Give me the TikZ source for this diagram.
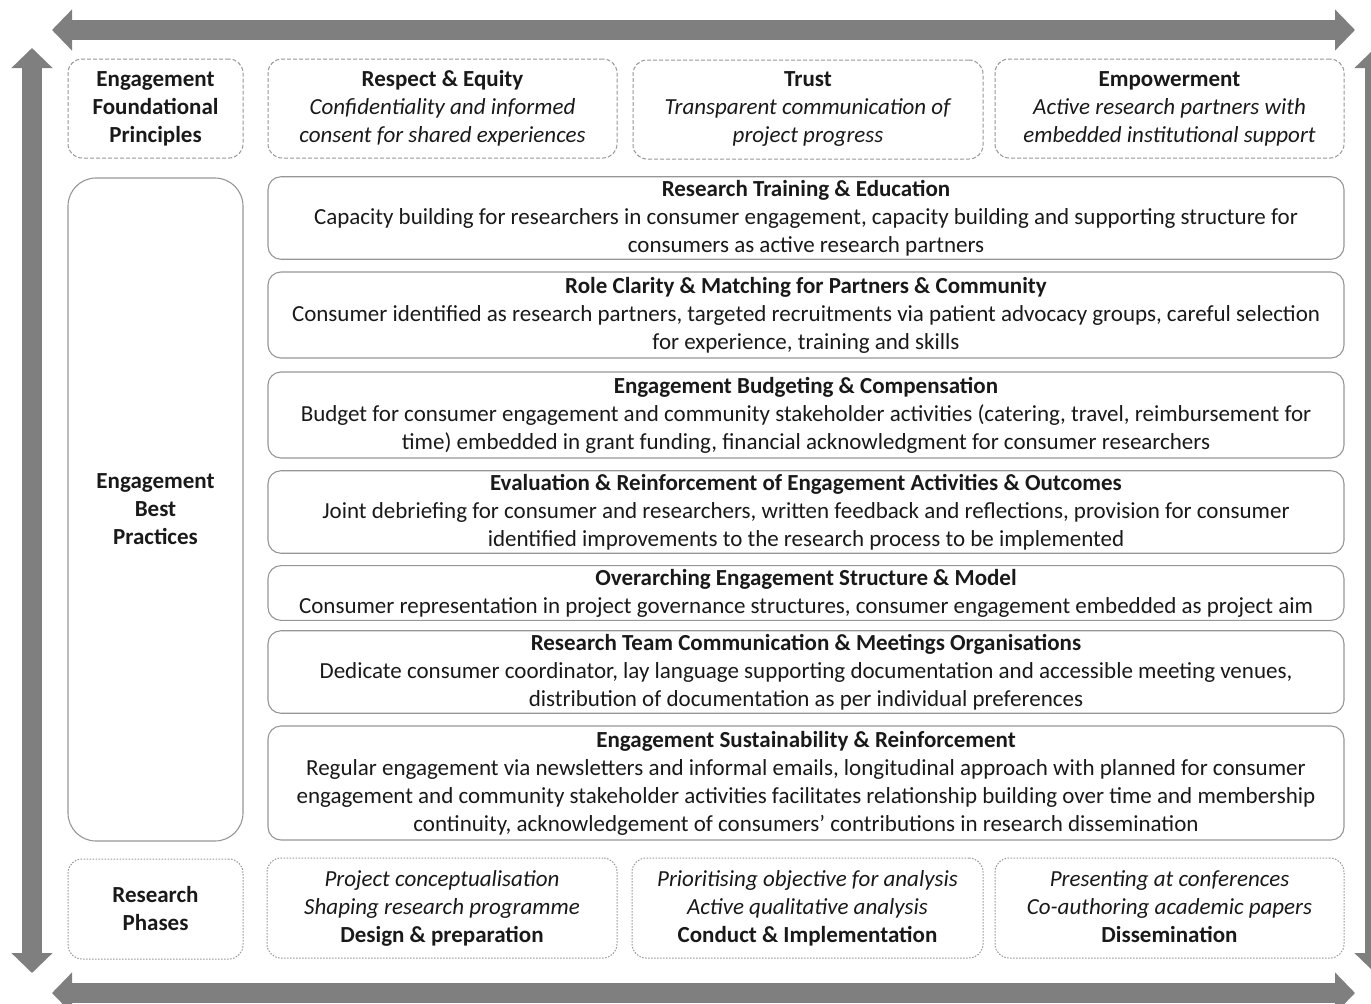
\documentclass[tikz,border=0pt]{standalone}
\usepackage{fontspec}
\setmainfont{Carlito}
\usetikzlibrary{arrows.meta}
\definecolor{arrow_gray}{RGB}{127, 127, 127}
\definecolor{line_gray}{RGB}{150, 150, 150}
\definecolor{text_black}{RGB}{25, 25, 25}
\def \BP {\fontsize{23}{28}\selectfont}

\begin{document}
\begin{tikzpicture}[
    x=1pt, y=-1pt,
    % Node styles
    principle/.style={
        rectangle,
        draw=line_gray,
        dash pattern=on 4pt off 2pt,
        line width=1pt,
        rounded corners=14pt,
        minimum height=99pt,
        minimum width=#1,
        text=text_black,
        align=center,
        font=\BP
    },
    practice/.style={
        rectangle,
        draw=line_gray,
        line width=1.1pt,
        rounded corners=13pt,
        minimum width=1076pt,
        minimum height=#1,
        text=text_black,
        align=center,
        font=\BP
    },
    phase/.style={
        rectangle,
        draw=line_gray,
        dash pattern=on 1.5pt off 1.5pt,
        line width=1pt,
        rounded corners=14pt,
        minimum height=100pt,
        minimum width=#1,
        text=text_black,
        align=center,
        font=\BP
    },
    big_arrow/.style={
        draw=arrow_gray,
        line width=20pt,
        {Triangle[width=40pt, length=20pt]}-{Triangle[width=40pt, length=20pt]}
    }
]

\useasboundingbox (0,0) rectangle (1371,1004);
\clip (0,0) rectangle (1371,1004);

% Arrow ends
\coordinate (top_l) at (52,30);
\coordinate (top_r) at (1355,30);
\coordinate (bot_l) at (52,993);
\coordinate (bot_r) at (1355,993);
\coordinate (left_t) at (32,48);
\coordinate (left_b) at (32,973);
\coordinate (right_t) at (1375,48);
\coordinate (right_b) at (1375,973);

\draw[big_arrow] (top_l) -- (top_r);
\draw[big_arrow] (bot_l) -- (bot_r);
\draw[big_arrow] (left_t) -- (left_b);
\draw[big_arrow] (right_t) -- (right_b);

% Foundational principles
\node[principle=175pt] (found) at (155.5,108.5) {\textbf{Engagement}\\\textbf{Foundational}\\\textbf{Principles}};
\node[principle=349pt] (respect) at (442.5,108.5) {\textbf{Respect \& Equity}\\\textit{Confidentiality and informed}\\\textit{consent for shared experiences}};
\node[principle=350pt] (trust) at (808,109.5) {\textbf{Trust}\\\textit{Transparent communication of}\\\textit{project progress}};
\node[principle=349pt] (empower) at (1169.5,108.5) {\textbf{Empowerment}\\\textit{Active research partners with}\\\textit{embedded institutional support}};

% Best practices
\node[practice=663pt, minimum width=175pt, rounded corners=28pt] (best) at (155.5,509.5) {\textbf{Engagement}\\\textbf{Best}\\\textbf{Practices}};
\node[practice=80pt] (training) at (806,218) {\textbf{Research Training \& Education}\\Capacity building for researchers in consumer engagement, capacity building and supporting structure for\\consumers as active research partners};
\node[practice=86pt] (roles) at (806,315) {\textbf{Role Clarity \& Matching for Partners \& Community}\\Consumer identified as research partners, targeted recruitments via patient advocacy groups, careful selection\\for experience, training and skills};
\node[practice=86pt] (budget) at (806,415) {\textbf{Engagement Budgeting \& Compensation}\\Budget for consumer engagement and community stakeholder activities (catering, travel, reimbursement for\\time) embedded in grant funding, financial acknowledgment for consumer researchers};
\node[practice=82pt] (evaluation) at (806,512) {\textbf{Evaluation \& Reinforcement of Engagement Activities \& Outcomes}\\Joint debriefing for consumer and researchers, written feedback and reflections, provision for consumer\\identified improvements to the research process to be implemented};
\node[practice=54pt] (structure) at (806,593) {\textbf{Overarching Engagement Structure \& Model}\\Consumer representation in project governance structures, consumer engagement embedded as project aim};
\node[practice=78pt] (meetings) at (806,672) {\textbf{Research Team Communication \& Meetings Organisations}\\Dedicate consumer coordinator, lay language supporting documentation and accessible meeting venues,\\distribution of documentation as per individual preferences};
\node[practice=114pt] (sustain) at (806,783) {\textbf{Engagement Sustainability \& Reinforcement}\\Regular engagement via newsletters and informal emails, longitudinal approach with planned for consumer\\engagement and community stakeholder activities facilitates relationship building over time and membership\\continuity, acknowledgement of consumers’ contributions in research dissemination};

% Research phases
\node[phase=175pt] (phases) at (155.5,909) {\textbf{Research}\\\textbf{Phases}};
\node[phase=350pt] (design) at (442,908) {\textit{Project conceptualisation}\\\textit{Shaping research programme}\\\textbf{Design \& preparation}};
\node[phase=351pt] (conduct) at (807.5,908) {\textit{Prioritising objective for analysis}\\\textit{Active qualitative analysis}\\\textbf{Conduct \& Implementation}};
\node[phase=349pt] (dissem) at (1169.5,908) {\textit{Presenting at conferences}\\\textit{Co-authoring academic papers}\\\textbf{Dissemination\vphantom{p}}};

\end{tikzpicture}
\end{document}
